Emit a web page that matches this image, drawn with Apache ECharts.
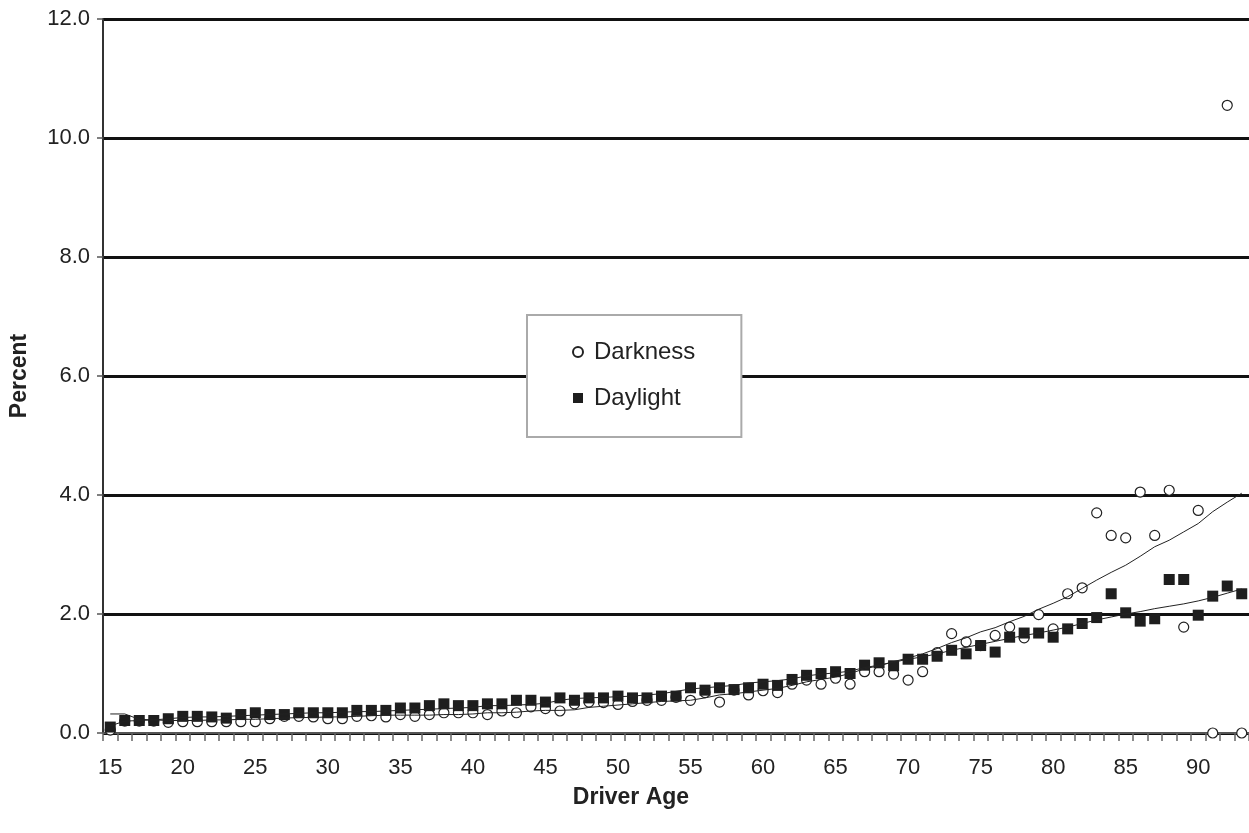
<!DOCTYPE html>
<html>
<head>
<meta charset="utf-8">
<script src="https://cdn.jsdelivr.net/npm/echarts@6/dist/echarts.min.js"></script>
<style>
html,body{margin:0;padding:0;background:#fff;}
#chart{width:1249px;height:833px;}
</style>
</head>
<body>
<div id="chart"></div>
<script>
const ages = [];
for (let a = 15; a <= 93; a++) ages.push(String(a));

const darkness = [0.05,0.20,0.20,0.20,0.18,0.19,0.19,0.19,0.19,0.19,
0.19,0.24,0.28,0.28,0.27,0.24,0.24,0.28,0.29,0.27,
0.31,0.28,0.31,0.34,0.34,0.34,0.31,0.37,0.34,0.44,
0.41,0.37,0.49,0.52,0.51,0.48,0.53,0.55,0.55,0.60,
0.55,0.68,0.52,0.72,0.64,0.71,0.68,0.82,0.89,0.82,
0.92,0.82,1.03,1.03,0.99,0.89,1.03,1.35,1.67,1.53,
1.47,1.64,1.78,1.60,1.99,1.75,2.34,2.44,3.70,3.32,
3.28,4.05,3.32,4.08,1.78,3.74,0,10.55,0];

const daylight = [0.10,0.21,0.21,0.21,0.24,0.28,0.28,0.27,0.25,0.31,
0.34,0.31,0.31,0.34,0.34,0.34,0.34,0.38,0.38,0.38,
0.42,0.42,0.46,0.49,0.46,0.46,0.49,0.49,0.55,0.55,
0.52,0.59,0.55,0.59,0.59,0.62,0.59,0.59,0.62,0.62,
0.76,0.72,0.76,0.73,0.76,0.82,0.80,0.90,0.97,1.00,
1.03,1.00,1.14,1.18,1.13,1.24,1.24,1.29,1.39,1.33,
1.47,1.36,1.61,1.68,1.68,1.61,1.75,1.84,1.94,2.34,
2.02,1.88,1.92,2.58,2.58,1.98,2.30,2.47,2.34];

const darknessTrend = [0.32,0.32,0.23,0.22,0.21,0.21,0.21,0.22,0.22,0.23,
0.23,0.24,0.25,0.26,0.26,0.27,0.27,0.28,0.29,0.30,
0.30,0.30,0.30,0.31,0.31,0.32,0.34,0.34,0.35,0.37,
0.38,0.38,0.39,0.43,0.45,0.47,0.49,0.51,0.53,0.54,
0.55,0.59,0.64,0.66,0.69,0.72,0.75,0.80,0.86,0.90,
0.94,1.00,1.08,1.13,1.20,1.26,1.33,1.42,1.52,1.60,
1.70,1.77,1.87,1.96,2.08,2.18,2.29,2.43,2.57,2.70,
2.82,2.97,3.13,3.24,3.38,3.52,3.72,3.88,4.03];

const daylightTrend = [0.12,0.20,0.21,0.22,0.24,0.26,0.27,0.27,0.28,0.29,
0.30,0.31,0.32,0.33,0.34,0.34,0.35,0.36,0.36,0.37,
0.38,0.39,0.40,0.41,0.42,0.43,0.46,0.46,0.47,0.48,
0.50,0.55,0.58,0.59,0.60,0.61,0.62,0.64,0.66,0.70,
0.74,0.76,0.78,0.80,0.84,0.86,0.88,0.91,0.96,0.99,
1.01,1.04,1.10,1.14,1.19,1.24,1.28,1.33,1.39,1.44,
1.49,1.54,1.59,1.64,1.68,1.73,1.78,1.84,1.90,1.95,
2.00,2.04,2.09,2.13,2.17,2.22,2.28,2.35,2.42];

const yTicks = [0, 2, 4, 6, 8, 10, 12];

const FONT = '"Liberation Sans", Arial, Helvetica, sans-serif';
const chart = echarts.init(document.getElementById('chart'), null, {renderer: 'canvas'});
chart.setOption({
  animation: false,
  backgroundColor: '#fff',
  textStyle: {fontFamily: FONT, color: '#222'},
  grid: {left: 103, right: 0, top: 19, bottom: 100, containLabel: false, outerBoundsMode: 'none'},
  legend: {
    orient: 'vertical',
    left: 527, top: 315,
    data: ['Darkness', 'Daylight'],
    padding: [25, 46, 27, 45],
    itemGap: 22,
    itemWidth: 10, itemHeight: 10,
    backgroundColor: '#fff',
    borderColor: '#aaaaaa', borderWidth: 2, borderRadius: 0,
    textStyle: {fontFamily: FONT, fontSize: 24, color: '#222', padding: [0, 0, 0, 6]}
  },
  xAxis: {
    type: 'category',
    data: ages,
    boundaryGap: true,
    name: 'Driver Age',
    nameLocation: 'middle',
    nameGap: 53,
    nameMoveOverlap: false,
    nameTextStyle: {fontFamily: FONT, fontSize: 23, fontWeight: 'bold', color: '#222', padding: [0, 90, 0, 0]},
    axisLine: {show: true, lineStyle: {color: '#555', width: 2}},
    axisTick: {show: true, interval: 0, length: 8, lineStyle: {color: '#666', width: 1.5}},
    axisLabel: {
      interval: function (i, v) { return Number(v) % 5 === 0; },
      fontFamily: FONT, fontSize: 22, color: '#222', margin: 24
    },
    splitLine: {show: false}
  },
  yAxis: {
    type: 'value',
    min: 0, max: 12, interval: 2,
    name: 'Percent',
    nameLocation: 'middle',
    nameRotate: 90,
    nameGap: 72,
    nameMoveOverlap: false,
    nameTextStyle: {fontFamily: FONT, fontSize: 23, fontWeight: 'bold', color: '#222'},
    axisLine: {show: true, lineStyle: {color: '#333', width: 2}},
    axisTick: {show: true, length: 6, lineStyle: {color: '#555', width: 1.5}},
    axisLabel: {
      fontFamily: FONT, fontSize: 22, color: '#222', margin: 13,
      formatter: function (v) { return yTicks.indexOf(v) >= 0 ? v.toFixed(1) : ''; }
    },
    splitLine: {show: true, lineStyle: {color: '#111', width: 3}}
  },
  series: [
    {
      name: 'Darkness', type: 'scatter', data: darkness,
      symbol: 'circle', symbolSize: 10, z: 2,
      itemStyle: {color: '#fff', borderColor: '#222', borderWidth: 1.2, opacity: 1}
    },
    {
      name: 'Daylight', type: 'scatter', data: daylight,
      symbol: 'rect', symbolSize: 11, z: 3,
      itemStyle: {color: '#1e1e1e', opacity: 1}
    },
    {
      name: 'Darkness trend', type: 'line', data: darknessTrend,
      showSymbol: false, symbol: 'none', smooth: false, z: 4,
      lineStyle: {color: '#222', width: 1}
    },
    {
      name: 'Daylight trend', type: 'line', data: daylightTrend,
      showSymbol: false, symbol: 'none', smooth: false, z: 4,
      lineStyle: {color: '#222', width: 1}
    }
  ]
});
</script>
</body>
</html>
